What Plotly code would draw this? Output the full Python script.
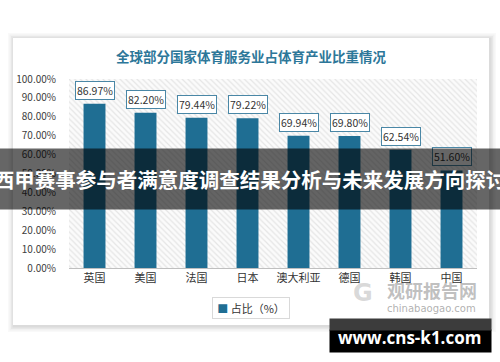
import plotly.graph_objects as go

categories = ["英国", "美国", "法国", "日本", "澳大利亚", "德国", "韩国", "中国"]
share_pct = [86.97, 82.20, 79.44, 79.22, 69.94, 69.80, 62.54, 51.60]
series_name = "占比（%）"
title_text = "全球部分国家体育服务业占体育产业比重情况"
banner_text = "西甲赛事参与者满意度调查结果分析与未来发展方向探讨"
site_text = "www.cns-k1.com"
y_ticks = [i / 10 for i in range(11)]

CJK = "Noto Sans CJK SC"
BAR = "#1f6e93"

# pixel -> paper helpers (plot area 69..477 x, 79..268 y)
L, R, T, B = 69, 477, 79, 268
def px(x):
    return (x - L) / (R - L)
def py(y):
    return (B - y) / (B - T)

fig = go.Figure()

# hatched plot background (main, hidden axes)
fig.add_trace(go.Bar(
    x=[0.5], y=[1], width=[1], xaxis="x", yaxis="y",
    marker=dict(color="white", line=dict(width=0),
                pattern=dict(shape="\\", fgcolor="#cfcfcf", bgcolor="#fbfbfb",
                             size=4, solidity=0.3)),
    showlegend=False, hoverinfo="skip"))

# data bars (overlaying axes, drawn on top)
fig.add_trace(go.Bar(
    x=categories, y=[v / 100 for v in share_pct], name=series_name,
    xaxis="x2", yaxis="y2",
    marker=dict(color=BAR, line=dict(width=0)), width=0.43, showlegend=False))

shapes = []
# card shadow + card
for i, a in enumerate([0.025, 0.03, 0.04, 0.05]):
    d = 6 - i * 1.5
    shapes.append(dict(type="rect", xref="paper", yref="paper", layer="below",
                       x0=px(13 - d + 1), x1=px(489 + d + 1), y0=py(325 + d + 1), y1=py(38 - d + 1),
                       fillcolor=f"rgba(0,0,0,{a})", line=dict(width=0)))
shapes.append(dict(type="rect", xref="paper", yref="paper", layer="below",
                   x0=px(13), x1=px(489), y0=py(325), y1=py(38),
                   fillcolor="white", line=dict(width=0)))

annotations = []
for c, v in zip(categories, share_pct):
    annotations.append(dict(
        x=c, y=v / 100, xref="x2", yref="y2", text=f"{v:.2f}%", showarrow=False,
        xanchor="center", yanchor="bottom", yshift=4,
        font=dict(family=CJK, size=10.5, color="#333333"),
        bgcolor="white", bordercolor="#4a87a6", borderwidth=1, borderpad=1))

def note(x, y, text, **kw):
    d = dict(x=px(x), y=py(y), xref="paper", yref="paper", text=text,
             showarrow=False, xanchor="center", yanchor="middle")
    d.update(kw)
    annotations.append(d)

note(251, 56, f"<b>{title_text}</b>", font=dict(family=CJK, size=13.5, color="#2d7799"))

# legend (drawn as a boxed label)
note(251, 307.5, f"<span style='color:{BAR}'>■</span> {series_name}",
     width=72, height=16, bgcolor="white", bordercolor="#d9d9d9", borderwidth=1,
     borderpad=2, font=dict(family=CJK, size=11, color="#333333"))

# watermark
note(432, 290, "<b>观研报告网</b>", font=dict(family=CJK, size=18, color="rgba(150,150,150,0.6)"))
note(431, 308, "chinabaogao.com", font=dict(family="DejaVu Sans", size=10, color="rgba(150,150,150,0.75)"))
note(363, 293, "<b>G</b>", font=dict(family="DejaVu Sans", size=24, color="rgba(170,170,170,0.45)"))

# dark banner
note(250, 179, f"<b>{banner_text}</b>", width=600, height=58,
     bgcolor="rgba(0,0,0,0.6)", font=dict(family=CJK, size=20.5, color="white"))

# site box
note(410.5, 341, " ", width=161, height=22, bgcolor="black", borderpad=0)
note(410.5, 324.5, " ", width=161, height=11, bgcolor="#3c3c3c", borderpad=0)
note(409, 337, f"<b>{site_text}</b>", font=dict(family="Open Sans", size=17, color="white"))

fig.update_layout(
    width=500, height=362,
    margin=dict(l=L, r=500 - R, t=T, b=362 - B, pad=0),
    paper_bgcolor="white", plot_bgcolor="rgba(0,0,0,0)",
    showlegend=False,
    xaxis=dict(range=[0, 1], visible=False),
    yaxis=dict(range=[0, 1], visible=False),
    xaxis2=dict(overlaying="x", side="bottom", showline=True, linecolor="#bfbfbf",
                linewidth=1, showgrid=False, ticks="", zeroline=False,
                tickfont=dict(family=CJK, size=11, color="#333333")),
    yaxis2=dict(overlaying="y", side="left", range=[0, 1], tickvals=y_ticks,
                tickformat=".2%", showgrid=False, zeroline=False, showline=False,
                ticks="outside", ticklen=10, tickcolor="rgba(0,0,0,0)",
                tickfont=dict(family=CJK, size=10, color="#404040")),
    bargap=0.57,
    shapes=shapes, annotations=annotations,
)

fig.write_html("out.html", config={"displayModeBar": False},
               post_script="document.body.style.margin='0';document.body.style.overflow='hidden';")
